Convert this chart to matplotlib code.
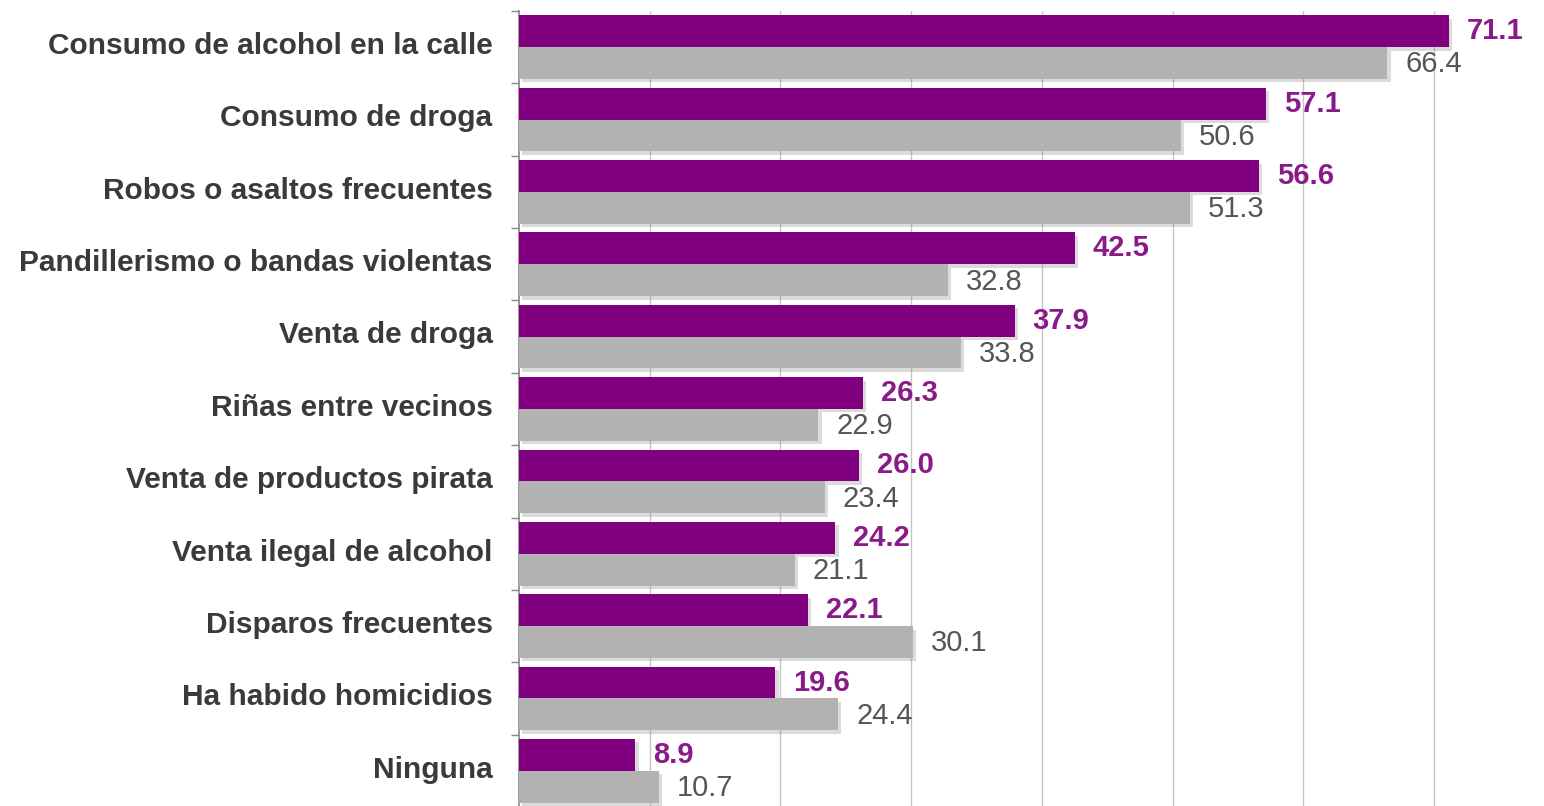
import matplotlib
matplotlib.use("Agg")
import matplotlib.pyplot as plt
import matplotlib.patheffects as pe
import matplotlib.transforms as mtrans
import numpy as np

categorias = ["Consumo de alcohol en la calle", "Consumo de droga", "Robos o asaltos frecuentes",
              "Pandillerismo o bandas violentas", "Venta de droga", "Riñas entre vecinos",
              "Venta de productos pirata", "Venta ilegal de alcohol", "Disparos frecuentes",
              "Ha habido homicidios", "Ninguna"]
serie_morada = [71.1, 57.1, 56.6, 42.5, 37.9, 26.3, 26.0, 24.2, 22.1, 19.6, 8.9]
serie_gris = [66.4, 50.6, 51.3, 32.8, 33.8, 22.9, 23.4, 21.1, 30.1, 24.4, 10.7]

plt.rcParams["font.family"] = ["Liberation Sans", "DejaVu Sans"]
morado, gris = "#800080", "#b2b2b2"

fig = plt.figure(figsize=(15.44, 8.06), dpi=100)
ax = fig.add_axes([519/1544, -1/806, 1025/1544, 796/806])
y = np.arange(len(categorias))
h = 0.44
sombra = [pe.SimplePatchShadow(offset=(2.5, -2.5), shadow_rgbFace="#888888", alpha=0.3), pe.Normal()]
b1 = ax.barh(y - h/2, serie_morada, height=h, color=morado, zorder=3)
b2 = ax.barh(y + h/2, serie_gris, height=h, color=gris, zorder=3)
for b in list(b1) + list(b2):
    b.set_path_effects(sombra)

for yi, v in zip(y, serie_morada):
    ax.annotate(f"{v:.1f}", (v, yi - h/2), xytext=(13, 0), textcoords="offset points",
                va="center", ha="left", fontsize=21, fontweight="bold", color="#8a1a8a")
for yi, v in zip(y, serie_gris):
    ax.annotate(f"{v:.1f}", (v, yi + h/2), xytext=(13, -1), textcoords="offset points",
                va="center", ha="left", fontsize=21, color="#555555")

ax.set_xlim(0, 78.4)
ax.set_ylim(len(categorias) - 0.5, -0.5)
ax.set_xticks(np.arange(10, 80, 10))
ax.grid(axis="x", color="#c4c4c4", linewidth=1, zorder=0)
ax.tick_params(axis="x", length=0, labelbottom=False)
ax.set_yticks(y)
ax.set_yticklabels(categorias, fontsize=21.5, fontweight="bold", color="#3a3a3a")
ax.tick_params(axis="y", which="major", length=0, pad=19)
subir = mtrans.ScaledTranslation(0, 3/72, fig.dpi_scale_trans)
for lbl in ax.get_yticklabels():
    lbl.set_transform(lbl.get_transform() + subir)
ax.set_yticks(np.arange(-0.5, len(categorias), 1), minor=True)
ax.tick_params(axis="y", which="minor", length=6, color="#888888", width=1)
for s in ["top", "right", "bottom"]:
    ax.spines[s].set_visible(False)
ax.spines["left"].set_color("#888888")
ax.spines["left"].set_linewidth(1.2)

fig.savefig("out.png", dpi=100)
